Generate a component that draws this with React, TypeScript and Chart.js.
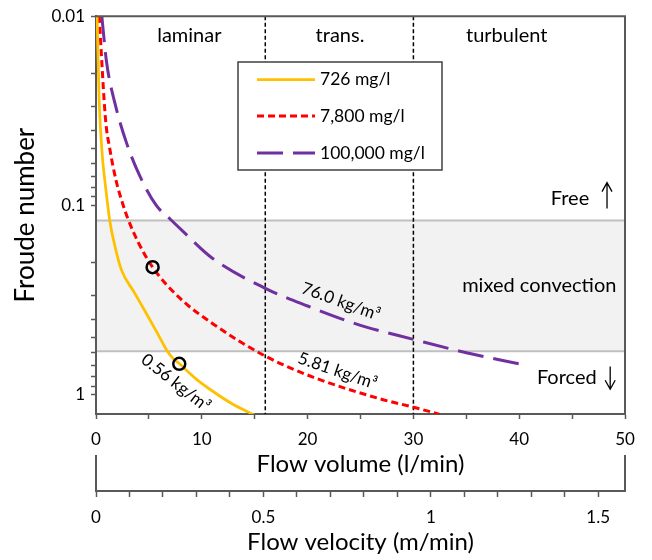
import React, { useEffect, useRef } from 'react';
import { Chart, registerables } from 'chart.js';

Chart.register(...registerables);

const FONT = "Lato, 'Noto Sans', sans-serif";

// ---- data ----
const SERIES_LABELS = ['726 mg/l', '7,800 mg/l', '100,000 mg/l'];
const SERIES_COLORS = ['#FFC000', '#FF0000', '#7030A0'];

const YELLOW_X = [0.1, 0.3, 0.6, 0.85, 1.3, 1.8, 2.4, 3.6, 4.8, 5.8, 6.7, 7.3, 7.9, 8.7, 9.5, 11.1, 12.9, 14.7, 15.2];
const YELLOW_FR = [0.01, 0.028, 0.055, 0.075, 0.12, 0.165, 0.219, 0.287, 0.376, 0.473, 0.584, 0.645, 0.687, 0.757, 0.83, 0.965, 1.12, 1.26, 1.3];

const RED_X = [0.3, 0.9, 1.3, 1.9, 2.5, 3.0, 4.0, 5.35, 7.9, 11.1, 16, 20.5, 26.8, 30, 32.5];
const RED_FR = [0.01, 0.035, 0.05, 0.074, 0.097, 0.117, 0.157, 0.212, 0.308, 0.424, 0.625, 0.807, 1.05, 1.165, 1.27];

const PURPLE_X = [0.55, 1.0, 1.8, 2.9, 4.15, 5.7, 7.0, 8.1, 11, 16, 20, 25, 30, 35, 40];
const PURPLE_FR = [0.01, 0.0175, 0.029, 0.047, 0.07, 0.1, 0.118, 0.135, 0.19, 0.274, 0.34, 0.43, 0.51, 0.6, 0.687];

const MARKER_X = [5.35, 7.87];
const MARKER_FR = [0.212, 0.687];

const X_TICKS = [0, 5, 10, 15, 20, 25, 30, 35, 40, 45, 50];
const X_LABELS = [0, 10, 20, 30, 40, 50];
const V_TICKS = [0, 0.1, 0.2, 0.3, 0.4, 0.5, 0.6, 0.7, 0.8, 0.9, 1, 1.1, 1.2, 1.3, 1.4, 1.5];
const V_LABELS = [0, 0.5, 1, 1.5];
const V_MAX = 1.58;
const Y_TICKS = [0.01, 0.02, 0.03, 0.04, 0.05, 0.06, 0.07, 0.08, 0.09, 0.1, 0.2, 0.3, 0.4, 0.5, 0.6, 0.7, 0.8, 0.9, 1];
const Y_LABELS = [0.01, 0.1, 1];
const Y_MAX = 1.265;

const REGIME_BOUNDS = [16, 30];
const BAND = [0.12, 0.59];

// annotations: [text, x value, Froude value, angle deg]
const REGIME_TEXT: [string, number, number][] = [
  ['laminar', 8.82, 0.0127],
  ['trans.', 23.06, 0.0127],
  ['turbulent', 38.82, 0.0127],
];
const ZONE_TEXT: [string, number, number][] = [
  ['Free', 44.8, 0.0915],
  ['mixed convection', 41.9, 0.265],
  ['Forced', 44.5, 0.815],
];
const ARROWS: [number, number, number, boolean][] = [
  [48.3, 0.0757, 0.1037, true],
  [48.6, 0.709, 0.936, false],
];
const DENSITY_TEXT: [string, number, number, number][] = [
  ['76.0 kg/m\u00B3', 23.14, 0.322, 20],
  ['5.81 kg/m\u00B3', 22.83, 0.749, 19],
  ['0.56 kg/m\u00B3', 7.54, 0.865, 38],
];

const pts = (xs: number[], ys: number[]) => xs.map((x, i) => ({ x, y: ys[i] }));

const decor = {
  id: 'decor',
  beforeDraw(chart: any) {
    const { ctx, chartArea: a, scales } = chart;
    const y = scales.y;
    const y1 = y.getPixelForValue(BAND[0]);
    const y2 = y.getPixelForValue(BAND[1]);
    ctx.save();
    ctx.fillStyle = '#f2f2f2';
    ctx.fillRect(a.left, y1, a.right - a.left, y2 - y1);
    ctx.strokeStyle = '#bfbfbf';
    ctx.lineWidth = 2;
    for (const py of [y1, y2]) {
      ctx.beginPath();
      ctx.moveTo(a.left, py);
      ctx.lineTo(a.right, py);
      ctx.stroke();
    }
    ctx.restore();
  },
  beforeDatasetsDraw(chart: any) {
    const { ctx, chartArea: a, scales } = chart;
    ctx.save();
    ctx.strokeStyle = '#000';
    ctx.lineWidth = 1.5;
    ctx.setLineDash([4, 2.5]);
    for (const b of REGIME_BOUNDS) {
      const px = scales.x.getPixelForValue(b);
      ctx.beginPath();
      ctx.moveTo(px, a.top);
      ctx.lineTo(px, a.bottom);
      ctx.stroke();
    }
    ctx.restore();
  },
  afterDraw(chart: any) {
    const { ctx, chartArea: a, scales } = chart;
    const sx = scales.x;
    const sy = scales.y;
    const s2 = scales.x2;
    ctx.save();
    // frame top / right
    ctx.strokeStyle = '#595959';
    ctx.lineWidth = 2;
    ctx.beginPath();
    ctx.moveTo(a.left - 1, a.top);
    ctx.lineTo(a.right, a.top);
    ctx.lineTo(a.right, a.bottom);
    ctx.stroke();
    // secondary axis end bars
    ctx.beginPath();
    ctx.moveTo(s2.left, s2.top);
    ctx.lineTo(s2.left, s2.top - 36);
    ctx.moveTo(s2.right, s2.top);
    ctx.lineTo(s2.right, s2.top - 36);
    ctx.stroke();

    // texts
    ctx.fillStyle = '#000';
    ctx.textAlign = 'center';
    ctx.textBaseline = 'middle';
    ctx.font = `20px ${FONT}`;
    for (const [t, xv, fv] of REGIME_TEXT) ctx.fillText(t, sx.getPixelForValue(xv), sy.getPixelForValue(fv));
    for (const [t, xv, fv] of ZONE_TEXT) ctx.fillText(t, sx.getPixelForValue(xv), sy.getPixelForValue(fv));
    // arrows
    ctx.strokeStyle = '#000';
    ctx.lineWidth = 1.3;
    for (const [xv, f1, f2, up] of ARROWS) {
      const px = sx.getPixelForValue(xv);
      const p1 = sy.getPixelForValue(f1);
      const p2 = sy.getPixelForValue(f2);
      const tip = up ? p1 : p2;
      const d = up ? 9 : -9;
      ctx.beginPath();
      ctx.moveTo(px, p1);
      ctx.lineTo(px, p2);
      ctx.moveTo(px - 5, tip + d);
      ctx.lineTo(px, tip);
      ctx.lineTo(px + 5, tip + d);
      ctx.stroke();
    }
    // density labels
    ctx.font = `17px ${FONT}`;
    for (const [t, xv, fv, ang] of DENSITY_TEXT) {
      ctx.save();
      ctx.translate(sx.getPixelForValue(xv), sy.getPixelForValue(fv));
      ctx.rotate((ang * Math.PI) / 180);
      ctx.fillText(t, 0, 0);
      ctx.restore();
    }
    // legend
    const L = { left: 238, top: 62, w: 204, h: 108 };
    ctx.fillStyle = '#fff';
    ctx.fillRect(L.left, L.top, L.w, L.h);
    ctx.strokeStyle = '#404040';
    ctx.lineWidth = 1.5;
    ctx.strokeRect(L.left, L.top, L.w, L.h);
    ctx.font = `17.5px ${FONT}`;
    ctx.textAlign = 'left';
    const rows = [79.5, 116, 153];
    for (let i = 0; i < 3; i++) {
      const ds = chart.data.datasets[i];
      ctx.strokeStyle = ds.borderColor;
      ctx.lineWidth = ds.borderWidth;
      ctx.setLineDash(ds.borderDash || []);
      ctx.beginPath();
      ctx.moveTo(L.left + 19, rows[i]);
      ctx.lineTo(L.left + 77, rows[i]);
      ctx.stroke();
      ctx.setLineDash([]);
      ctx.fillStyle = '#000';
      ctx.fillText(ds.label, L.left + 82, rows[i]);
    }
    ctx.restore();
  },
};

export default function App() {
  const ref = useRef<HTMLCanvasElement | null>(null);
  useEffect(() => {
    if (!ref.current) return;
    const tickFont = { family: FONT, size: 17 };
    const titleFont = { family: FONT, size: 24 };
    const chart = new Chart(ref.current, {
      type: 'line',
      data: {
        datasets: [
          {
            label: SERIES_LABELS[0],
            data: pts(YELLOW_X, YELLOW_FR),
            borderColor: SERIES_COLORS[0],
            borderWidth: 2.75,
            pointRadius: 0,
            cubicInterpolationMode: 'monotone',
          },
          {
            label: SERIES_LABELS[1],
            data: pts(RED_X, RED_FR),
            borderColor: SERIES_COLORS[1],
            borderWidth: 3,
            borderDash: [7, 4],
            pointRadius: 0,
            cubicInterpolationMode: 'monotone',
          },
          {
            label: SERIES_LABELS[2],
            data: pts(PURPLE_X, PURPLE_FR),
            borderColor: SERIES_COLORS[2],
            borderWidth: 3,
            borderDash: [26, 10],
            pointRadius: 0,
            cubicInterpolationMode: 'monotone',
          },
          {
            label: 'markers',
            data: pts(MARKER_X, MARKER_FR),
            showLine: false,
            pointRadius: 6,
            pointBorderWidth: 2.5,
            pointBorderColor: '#000',
            pointBackgroundColor: 'rgba(0,0,0,0)',
            order: -1,
          },
        ],
      },
      options: {
        responsive: false,
        animation: false,
        layout: { padding: { left: 0, right: 27, top: 12, bottom: 0 } },
        plugins: { legend: { display: false }, tooltip: { enabled: false } },
        scales: {
          x: {
            type: 'linear',
            position: 'bottom',
            min: 0,
            max: 50,
            weight: 0,
            afterBuildTicks: (s: any) => { s.ticks = X_TICKS.map((v) => ({ value: v })); },
            afterFit: (s: any) => { s.height = 77; },
            ticks: {
              autoSkip: false,
              maxRotation: 0,
              padding: 10,
              color: '#000',
              font: tickFont,
              callback: (v: any) => (X_LABELS.includes(v) ? String(v) : ''),
            },
            grid: { drawOnChartArea: false, drawTicks: true, tickLength: 5, tickColor: '#595959', tickWidth: 1.5 },
            border: { display: true, color: '#595959', width: 2 },
            title: { display: true, text: 'Flow volume (l/min)', color: '#000', font: titleFont, padding: { top: 0, bottom: 12 } },
          },
          x2: {
            type: 'linear',
            axis: 'x',
            position: 'bottom',
            min: 0,
            max: V_MAX,
            weight: 1,
            afterBuildTicks: (s: any) => { s.ticks = V_TICKS.map((v) => ({ value: v })); },
            afterFit: (s: any) => { s.height = 69; },
            ticks: {
              autoSkip: false,
              maxRotation: 0,
              padding: 10,
              color: '#000',
              font: tickFont,
              callback: (v: any) => (V_LABELS.includes(v) ? String(v) : ''),
            },
            grid: { drawOnChartArea: false, drawTicks: true, tickLength: 6, tickColor: '#595959', tickWidth: 1.5 },
            border: { display: true, color: '#595959', width: 2 },
            title: { display: true, text: 'Flow velocity (m/min)', color: '#000', font: titleFont, padding: { top: 0, bottom: 3 } },
          },
          y: {
            type: 'logarithmic',
            position: 'left',
            reverse: true,
            min: 0.01,
            max: Y_MAX,
            afterBuildTicks: (s: any) => { s.ticks = Y_TICKS.map((v) => ({ value: v })); },
            afterFit: (s: any) => { s.width = 96; },
            ticks: {
              autoSkip: false,
              padding: 6,
              color: '#000',
              font: tickFont,
              callback: (v: any) => (Y_LABELS.includes(v) ? String(v) : ''),
            },
            grid: { drawOnChartArea: false, drawTicks: true, tickLength: 5, tickColor: '#595959', tickWidth: 1.5 },
            border: { display: true, color: '#595959', width: 2 },
            title: { display: true, text: 'Froude number', color: '#000', font: { family: FONT, size: 26 }, padding: { top: 10, bottom: 0 } },
          },
        },
      } as any,
      plugins: [decor],
    });
    return () => chart.destroy();
  }, []);

  return (
    <div style={{ position: 'absolute', left: 0, top: 0, width: 652, height: 560, background: '#fff' }}>
      <canvas ref={ref} width={652} height={560} style={{ display: 'block' }} />
    </div>
  );
}
